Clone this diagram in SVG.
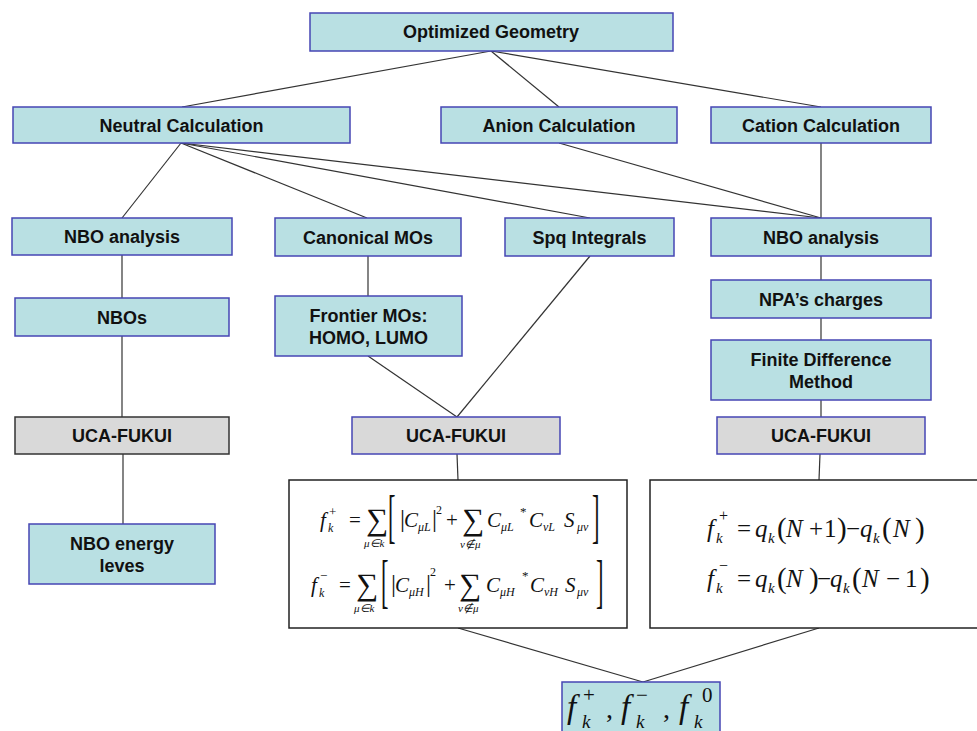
<svg xmlns="http://www.w3.org/2000/svg" width="977" height="731" viewBox="0 0 977 731">
<style>
.b{fill:#b9e0e3;stroke:#4646b4;stroke-width:1.5}
.g{fill:#d9d9d9;stroke:#4646b4;stroke-width:1.5}
.gd{fill:#d9d9d9;stroke:#333;stroke-width:1.5}
.f{fill:#fff;stroke:#222;stroke-width:1.5}
.t{font-family:"Liberation Sans",Arial,sans-serif;font-weight:bold;font-size:18px;fill:#111;text-anchor:middle}
.m{font-family:"Liberation Serif","Times New Roman",serif;fill:#111}
.i{font-style:italic}
#conn line{stroke:#333;stroke-width:1.2}
</style>
<rect width="977" height="731" fill="#fff"/>
<g id="conn">
<line x1="491" y1="51" x2="182" y2="107"/>
<line x1="491" y1="51" x2="559" y2="107"/>
<line x1="491" y1="51" x2="821" y2="107"/>
<line x1="181" y1="143" x2="122" y2="218"/>
<line x1="181" y1="143" x2="367" y2="218"/>
<line x1="181" y1="143" x2="590" y2="218"/>
<line x1="181" y1="143" x2="821" y2="218"/>
<line x1="559" y1="143" x2="821" y2="218"/>
<line x1="821" y1="143" x2="821" y2="218"/>
<line x1="122" y1="255" x2="122" y2="298"/>
<line x1="122" y1="336" x2="122" y2="417"/>
<line x1="123" y1="454" x2="123" y2="524"/>
<line x1="368" y1="256" x2="368" y2="296"/>
<line x1="368" y1="356" x2="457" y2="417"/>
<line x1="590" y1="256" x2="457" y2="417"/>
<line x1="457" y1="454" x2="458" y2="480"/>
<line x1="821" y1="256" x2="821" y2="280"/>
<line x1="821" y1="318" x2="821" y2="340"/>
<line x1="821" y1="400" x2="821" y2="417"/>
<line x1="820" y1="454" x2="819" y2="480"/>
<line x1="458" y1="628" x2="643" y2="682"/>
<line x1="819" y1="628" x2="643" y2="682"/>
</g>
<g id="optimized"><rect class="b" x="310" y="13" width="363" height="38"/><text class="t" x="491" y="38">Optimized Geometry</text></g>
<g id="neutral"><rect class="b" x="13" y="107" width="337" height="36"/><text class="t" x="181.5" y="131.5">Neutral Calculation</text></g>
<g id="anion"><rect class="b" x="441" y="107" width="236" height="36"/><text class="t" x="559" y="131.5">Anion Calculation</text></g>
<g id="cation"><rect class="b" x="711" y="107" width="220" height="36"/><text class="t" x="821" y="131.5">Cation Calculation</text></g>
<g id="nbo-left"><rect class="b" x="12" y="218" width="220" height="37"/><text class="t" x="122" y="243">NBO analysis</text></g>
<g id="canonical"><rect class="b" x="275" y="218" width="186" height="38"/><text class="t" x="368" y="243.5">Canonical MOs</text></g>
<g id="spq"><rect class="b" x="505" y="218" width="169" height="38"/><text class="t" x="589.5" y="243.5">Spq Integrals</text></g>
<g id="nbo-right"><rect class="b" x="711" y="218" width="220" height="38"/><text class="t" x="821" y="243.5">NBO analysis</text></g>
<g id="nbos"><rect class="b" x="15" y="298" width="214" height="38"/><text class="t" x="122" y="323.5">NBOs</text></g>
<g id="frontier"><rect class="b" x="275" y="296" width="187" height="60"/><text class="t" x="368.5" y="322">Frontier MOs:</text><text class="t" x="368.5" y="343.5">HOMO, LUMO</text></g>
<g id="npa"><rect class="b" x="711" y="280" width="220" height="38"/><text class="t" x="821" y="305.5">NPA’s charges</text></g>
<g id="fdm"><rect class="b" x="711" y="340" width="220" height="60"/><text class="t" x="821" y="365.5">Finite Difference</text><text class="t" x="821" y="387.5">Method</text></g>
<g id="uca-left"><rect class="gd" x="15" y="417" width="214" height="37"/><text class="t" x="122" y="442">UCA-FUKUI</text></g>
<g id="uca-mid"><rect class="g" x="352" y="417" width="208" height="37"/><text class="t" x="456" y="442">UCA-FUKUI</text></g>
<g id="uca-right"><rect class="g" x="717" y="417" width="208" height="37"/><text class="t" x="821" y="442">UCA-FUKUI</text></g>
<g id="nbo-energy"><rect class="b" x="29" y="524" width="186" height="60"/><text class="t" x="122" y="550">NBO energy</text><text class="t" x="122" y="572">leves</text></g>
<g id="formula-left">
<rect class="f" x="289" y="480" width="338" height="148"/>
<g class="m">
<text class="i" x="320" y="527" font-size="21">f</text>
<text class="i" x="328" y="532" font-size="12">k</text>
<text x="329" y="516" font-size="13">+</text>
<text x="349" y="527" font-size="21">=</text>
<text x="366" y="530" font-size="31">∑</text>
<text class="i" x="364" y="547" font-size="11">μ∈k</text>
<text x="0" y="0" font-size="30" transform="translate(388,536) scale(0.75,1.95)">[</text>
<text x="400" y="527" font-size="25">|</text>
<text class="i" x="404" y="527" font-size="21">C</text>
<text class="i" x="418" y="531" font-size="12">μL</text>
<text x="432" y="527" font-size="25">|</text>
<text x="436" y="514" font-size="12">2</text>
<text x="446" y="527" font-size="21">+</text>
<text x="462" y="530" font-size="31">∑</text>
<text class="i" x="460" y="548" font-size="11">ν∉μ</text>
<text class="i" x="487" y="527" font-size="21">C</text>
<text class="i" x="501" y="531" font-size="12">μL</text>
<text x="520" y="516" font-size="13">*</text>
<text class="i" x="529" y="527" font-size="21">C</text>
<text class="i" x="543" y="531" font-size="12">νL</text>
<text class="i" x="564" y="527" font-size="21">S</text>
<text class="i" x="577" y="531" font-size="12">μν</text>
<text x="0" y="0" font-size="30" transform="translate(592,536) scale(0.75,1.95)">]</text>
<text class="i" x="311" y="592" font-size="21">f</text>
<text class="i" x="319" y="597" font-size="12">k</text>
<text x="320" y="580" font-size="13">−</text>
<text x="339" y="592" font-size="21">=</text>
<text x="356" y="595" font-size="31">∑</text>
<text class="i" x="354" y="612" font-size="11">μ∈k</text>
<text x="0" y="0" font-size="30" transform="translate(381,601) scale(0.75,1.95)">[</text>
<text x="391" y="592" font-size="25">|</text>
<text class="i" x="395" y="592" font-size="21">C</text>
<text class="i" x="409" y="596" font-size="12">μH</text>
<text x="426" y="592" font-size="25">|</text>
<text x="430" y="576" font-size="12">2</text>
<text x="444" y="592" font-size="21">+</text>
<text x="459" y="595" font-size="31">∑</text>
<text class="i" x="458" y="612" font-size="11">ν∉μ</text>
<text class="i" x="486" y="592" font-size="21">C</text>
<text class="i" x="500" y="596" font-size="12">μH</text>
<text x="522" y="580" font-size="13">*</text>
<text class="i" x="530" y="592" font-size="21">C</text>
<text class="i" x="544" y="596" font-size="12">νH</text>
<text class="i" x="565" y="592" font-size="21">S</text>
<text class="i" x="577" y="596" font-size="12">μν</text>
<text x="0" y="0" font-size="30" transform="translate(596,601) scale(0.75,1.95)">]</text>
</g>
</g>
<g id="formula-right">
<rect class="f" x="650" y="480" width="340" height="148"/>
<g class="m">
<text class="i" x="707" y="537" font-size="25">f</text>
<text class="i" x="716" y="543" font-size="15">k</text>
<text x="719" y="521" font-size="16">+</text>
<text x="737" y="537" font-size="25">=</text>
<text class="i" x="755" y="537" font-size="25">q</text>
<text class="i" x="768" y="543" font-size="15">k</text>
<text x="777" y="538" font-size="29">(</text>
<text class="i" x="786" y="537" font-size="25">N</text>
<text x="809" y="537" font-size="25">+</text>
<text x="824" y="537" font-size="25">1</text>
<text x="837" y="538" font-size="29">)</text>
<text x="846" y="537" font-size="25">−</text>
<text class="i" x="860" y="537" font-size="25">q</text>
<text class="i" x="873" y="543" font-size="15">k</text>
<text x="882" y="538" font-size="29">(</text>
<text class="i" x="893" y="537" font-size="25">N</text>
<text x="915" y="538" font-size="29">)</text>
<text class="i" x="707" y="587" font-size="25">f</text>
<text class="i" x="716" y="593" font-size="15">k</text>
<text x="719" y="571" font-size="16">−</text>
<text x="737" y="587" font-size="25">=</text>
<text class="i" x="755" y="587" font-size="25">q</text>
<text class="i" x="768" y="593" font-size="15">k</text>
<text x="777" y="588" font-size="29">(</text>
<text class="i" x="786" y="587" font-size="25">N</text>
<text x="809" y="588" font-size="29">)</text>
<text x="817" y="587" font-size="25">−</text>
<text class="i" x="830" y="587" font-size="25">q</text>
<text class="i" x="843" y="593" font-size="15">k</text>
<text x="852" y="588" font-size="29">(</text>
<text class="i" x="862" y="587" font-size="25">N</text>
<text x="886" y="587" font-size="25">−</text>
<text x="905" y="587" font-size="25">1</text>
<text x="920" y="588" font-size="29">)</text>
</g>
</g>
<g id="result">
<rect class="b" x="562" y="682" width="158" height="60"/>
<g class="m">
<text class="i" x="567" y="718" font-size="33">f</text>
<text class="i" x="582" y="728" font-size="19">k</text>
<text x="583" y="702" font-size="21">+</text>
<text x="606" y="718" font-size="28">,</text>
<text class="i" x="621" y="718" font-size="33">f</text>
<text class="i" x="636" y="728" font-size="19">k</text>
<text x="636" y="702" font-size="21">−</text>
<text x="663" y="718" font-size="28">,</text>
<text class="i" x="679" y="718" font-size="33">f</text>
<text class="i" x="694" y="728" font-size="19">k</text>
<text x="702" y="702" font-size="21">0</text>
</g>
</g>
</svg>
